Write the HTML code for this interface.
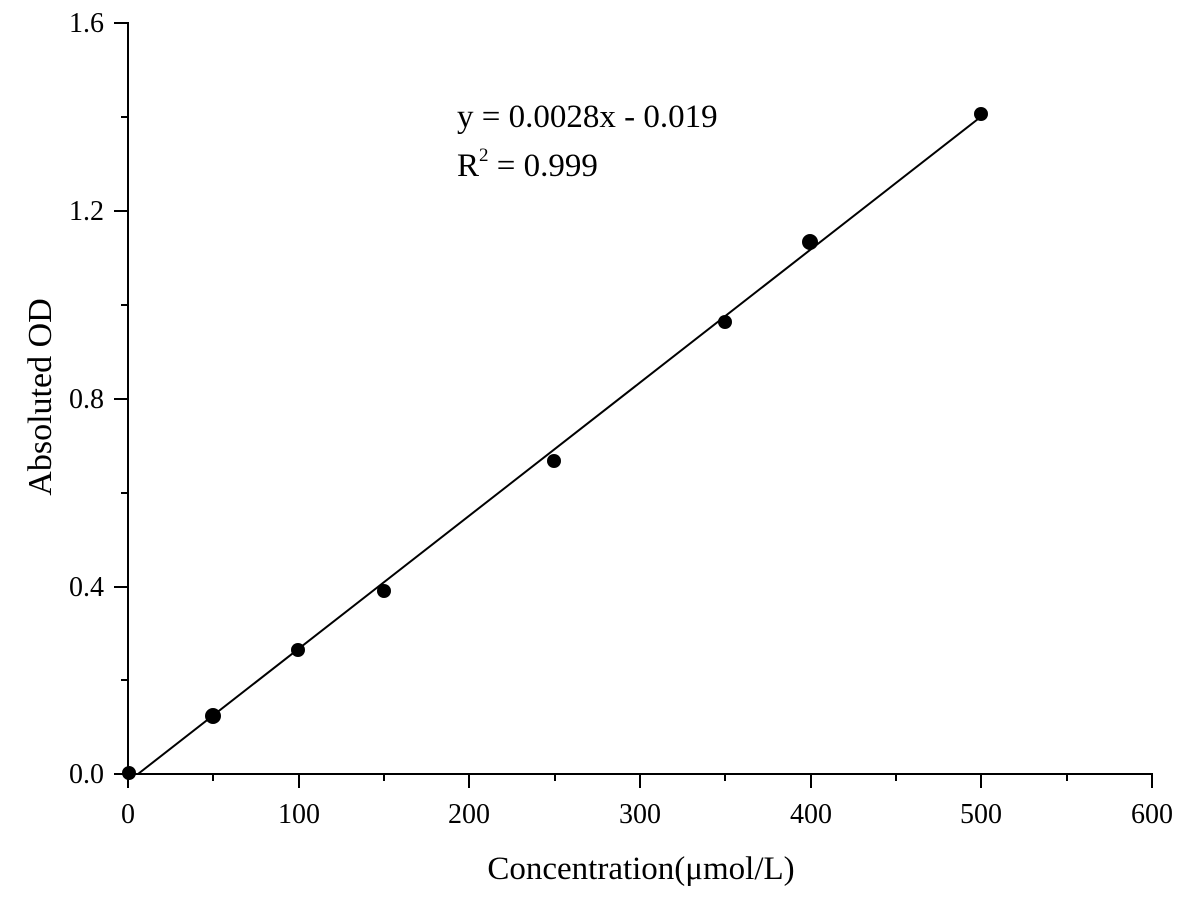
<!DOCTYPE html>
<html><head><style>body{margin:0;background:#fff}svg{display:block}text{font-family:"Liberation Serif",serif;fill:#000}</style></head><body>
<svg width="1196" height="897" viewBox="0 0 1196 897">
<g stroke="#000" stroke-width="2" fill="none">
<line x1="128" y1="22" x2="128" y2="774"/>
<line x1="127" y1="774" x2="1153" y2="774"/>
<line x1="128" y1="774" x2="128" y2="788"/>
<line x1="299" y1="774" x2="299" y2="788"/>
<line x1="469" y1="774" x2="469" y2="788"/>
<line x1="640" y1="774" x2="640" y2="788"/>
<line x1="811" y1="774" x2="811" y2="788"/>
<line x1="981" y1="774" x2="981" y2="788"/>
<line x1="1152" y1="774" x2="1152" y2="788"/>
<line x1="213" y1="774" x2="213" y2="781"/>
<line x1="384" y1="774" x2="384" y2="781"/>
<line x1="555" y1="774" x2="555" y2="781"/>
<line x1="725" y1="774" x2="725" y2="781"/>
<line x1="896" y1="774" x2="896" y2="781"/>
<line x1="1067" y1="774" x2="1067" y2="781"/>
<line x1="114" y1="774" x2="128" y2="774"/>
<line x1="114" y1="587" x2="128" y2="587"/>
<line x1="114" y1="399" x2="128" y2="399"/>
<line x1="114" y1="211" x2="128" y2="211"/>
<line x1="114" y1="23" x2="128" y2="23"/>
<line x1="121" y1="680" x2="128" y2="680"/>
<line x1="121" y1="493" x2="128" y2="493"/>
<line x1="121" y1="305" x2="128" y2="305"/>
<line x1="121" y1="117" x2="128" y2="117"/>
<line x1="138" y1="774" x2="978" y2="119"/>
</g>
<g fill="#000">
<circle cx="129" cy="773" r="7"/>
<circle cx="213" cy="716" r="8"/>
<circle cx="298" cy="650" r="7"/>
<circle cx="384" cy="591" r="7"/>
<circle cx="554" cy="461" r="7"/>
<circle cx="725" cy="322" r="7"/>
<circle cx="810" cy="242" r="8"/>
<circle cx="981" cy="114" r="7"/>
</g>
<g font-size="28" text-anchor="end">
<text x="104" y="783">0.0</text>
<text x="104" y="596">0.4</text>
<text x="104" y="408">0.8</text>
<text x="104" y="220">1.2</text>
<text x="104" y="32">1.6</text>
</g>
<g font-size="28" text-anchor="middle">
<text x="128" y="823">0</text>
<text x="299" y="823">100</text>
<text x="469" y="823">200</text>
<text x="640" y="823">300</text>
<text x="811" y="823">400</text>
<text x="981" y="823">500</text>
<text x="1152" y="823">600</text>
</g>
<text x="641" y="879" font-size="33" text-anchor="middle">Concentration(μmol/L)</text>
<text transform="translate(51,397) rotate(-90)" font-size="34" text-anchor="middle">Absoluted OD</text>
<text x="457" y="127" font-size="33">y = 0.0028x - 0.019</text>
<text x="457" y="176" font-size="33">R<tspan font-size="19" dy="-15">2</tspan><tspan dy="15"> = 0.999</tspan></text>
</svg>
</body></html>
